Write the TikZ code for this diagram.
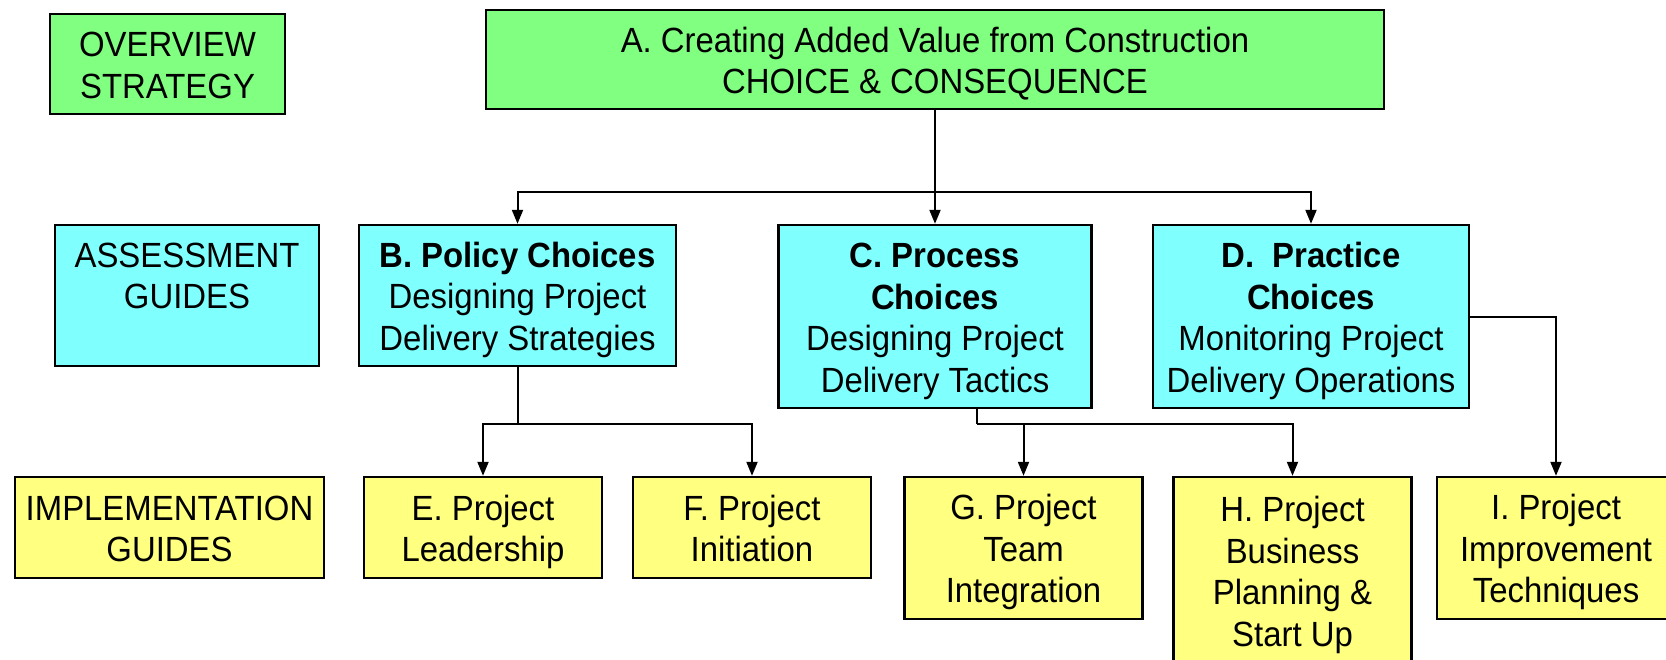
\documentclass[tikz,border=0pt]{standalone}
\usepackage{fontspec}
\setmainfont{Liberation Sans}[FakeStretch=0.94]
\usetikzlibrary{arrows.meta,calc}
\definecolor{boxgreen}{RGB}{128,255,128}
\definecolor{boxcyan}{RGB}{128,255,255}
\definecolor{boxyellow}{RGB}{255,255,128}
% fixed room above the first line and below the last one,
% so that every box sets its lines at the same place
\newcommand{\tstr}{\rule{0pt}{17.8pt}}
\newcommand{\bstr}{\rule[-4.5pt]{0pt}{0pt}}
\begin{document}
\begin{tikzpicture}[x=0.5pt,y=-0.5pt,
  box/.style={draw=black, line width=1.2pt, inner sep=0pt, align=center,
    font=\fontsize{17.5}{20.8}\selectfont},
  overview/.style={box, fill=boxgreen},
  assess/.style={box, fill=boxcyan},
  impl/.style={box, fill=boxyellow, minimum width=119pt},
  link/.style={draw=black, line width=1pt},
  arrow/.style={link, -{Triangle[length=7pt,width=5.5pt]}}]
\clip (0,0) rectangle (1666,659);
\fill[white] (0,0) rectangle (1666,659);

% top level
\node[overview, minimum width=117.5pt, minimum height=50pt] (ov) at (167.5,64)
  {\tstr OVERVIEW\\STRATEGY\bstr};
\node[overview, minimum width=449pt, minimum height=49.5pt] (A) at (935,59.5)
  {\tstr A. Creating Added Value from Construction\\CHOICE \& CONSEQUENCE\bstr};

% assessment guides
\node[assess, minimum width=132pt, minimum height=70.5pt] (ag) at (187,295.5)
  {\tstr ASSESSMENT\\GUIDES\\\bstr};
\node[assess, minimum width=158.5pt, minimum height=70.5pt] (B) at (517.5,295.5)
  {\tstr\textbf{B. Policy Choices}\\Designing Project\\Delivery Strategies\bstr};
\node[assess, minimum width=156.5pt, minimum height=91.5pt] (C) at (935,316.5)
  {\tstr\textbf{C. Process}\\\textbf{Choices}\\Designing Project\\Delivery Tactics\bstr};
\node[assess, minimum width=158pt, minimum height=91.5pt] (D) at (1311,316.5)
  {\tstr\textbf{D.\ \ Practice}\\\textbf{Choices}\\Monitoring Project\\Delivery Operations\bstr};

% implementation guides
\node[impl, minimum width=154.5pt, minimum height=50.5pt] (ig) at (169.5,527.5)
  {\tstr IMPLEMENTATION\\GUIDES\bstr};
\node[impl, minimum height=50.5pt] (E) at (483,527.5)
  {\tstr E. Project\\Leadership\bstr};
\node[impl, minimum height=50.5pt] (F) at (752,527.5)
  {\tstr F. Project\\Initiation\bstr};
\node[impl, minimum height=71pt] (G) at (1023.5,548)
  {\tstr G. Project\\Team\\Integration\bstr};
\node[impl, minimum height=93.5pt] (H) at (1292.5,570.5)
  {\tstr H. Project\\Business\\Planning \&\\Start Up\bstr};
\node[impl, minimum height=71pt] (I) at (1556,548)
  {\tstr I. Project\\Improvement\\Techniques\bstr};

% connectors from A
\coordinate (busA) at ($(A.south)+(0,82)$);
\draw[arrow] (A.south) -- (C.north);
\draw[arrow] (busA) -| (B.north);
\draw[arrow] (busA) -| (D.north);

% connectors from B
\coordinate (busB) at ($(B.south)+(0,57)$);
\draw[link] (B.south) -- (busB);
\draw[arrow] (busB) -| (E.north);
\draw[arrow] (busB) -| (F.north);

% connectors from C
\coordinate (outC) at ($(C.south)+(42,0)$);
\coordinate (busC) at ($(outC)+(0,15)$);
\draw[link] (outC) -- (busC);
\draw[arrow] (busC) -| (H.north);
\draw[arrow] (G.north |- busC) -- (G.north);

% connector from D
\draw[arrow] (D.east) -| (I.north);
\end{tikzpicture}
\end{document}
